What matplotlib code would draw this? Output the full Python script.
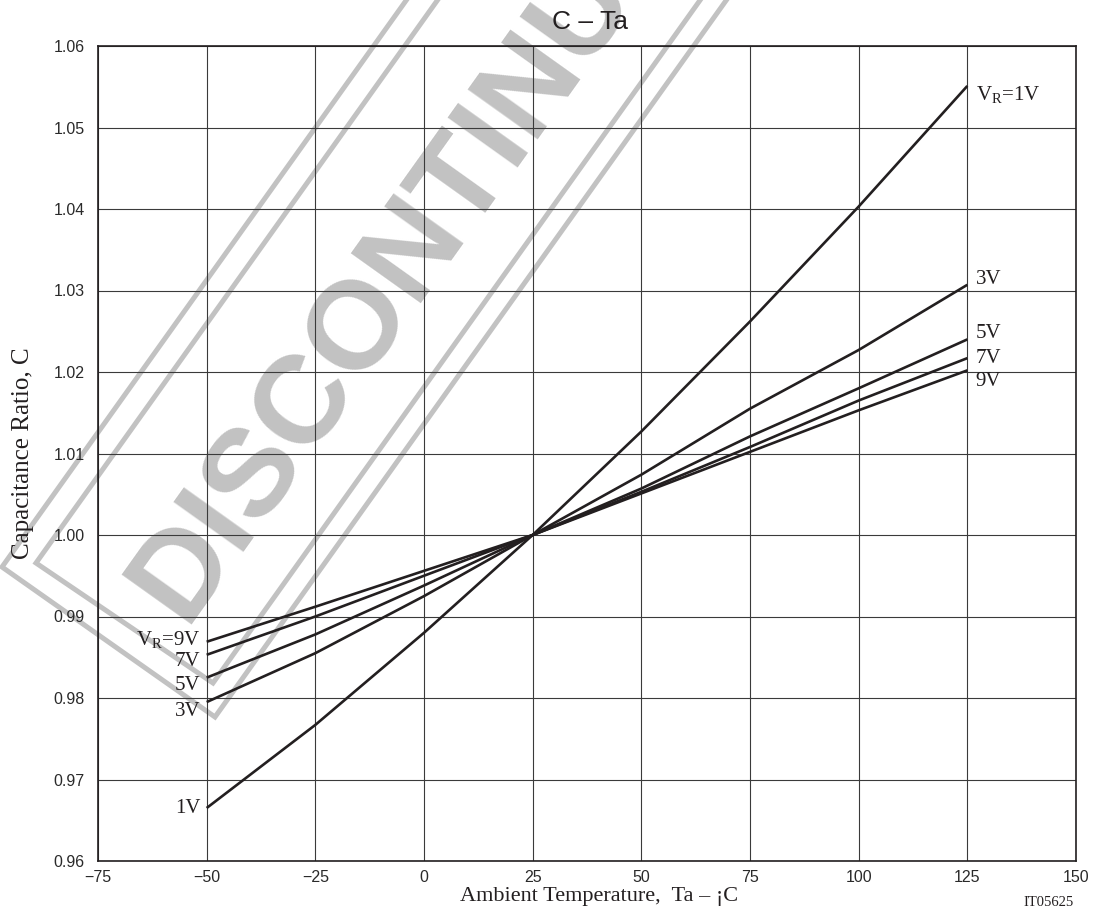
import numpy as np
import matplotlib
matplotlib.use("Agg")
import matplotlib.pyplot as plt
from matplotlib.ticker import FormatStrFormatter

# Data
temps = [-50, -25, 0, 25, 50, 75, 100, 125]
c_1v = [0.9665, 0.9767, 0.9880, 1.0, 1.0127, 1.0262, 1.0403, 1.0551]
c_3v = [0.9795, 0.9855, 0.9925, 1.0, 1.0074, 1.0155, 1.0227, 1.0307]
c_5v = [0.9825, 0.9878, 0.9938, 1.0, 1.0057, 1.0121, 1.0180, 1.0240]
c_7v = [0.9853, 0.9900, 0.9950, 1.0, 1.0053, 1.0108, 1.0165, 1.0217]
c_9v = [0.9869, 0.9912, 0.9956, 1.0, 1.0051, 1.0102, 1.0153, 1.0202]

right_labels = [r'V$_{\mathrm{R}}$=1V', '3V', '5V', '7V', '9V']
left_labels = ['1V', '3V', '5V', '7V', r'V$_{\mathrm{R}}$=9V']

x_ticks = [-75, -50, -25, 0, 25, 50, 75, 100, 125, 150]
y_ticks = [0.96, 0.97, 0.98, 0.99, 1.00, 1.01, 1.02, 1.03, 1.04, 1.05, 1.06]

plt.rcParams['mathtext.fontset'] = 'custom'
plt.rcParams['mathtext.rm'] = 'Liberation Serif'
plt.rcParams['mathtext.it'] = 'Liberation Serif:italic'

W, H = 1094, 914
fig = plt.figure(figsize=(W / 100, H / 100), dpi=100)
fig.patch.set_facecolor('white')

# Watermark layer (pixel coordinates), sits behind the chart
wm = fig.add_axes([0, 0, 1, 1], zorder=0)
wm.set_xlim(0, W)
wm.set_ylim(H, 0)
wm.axis('off')
grey = '#c2c2c2'
ang = np.deg2rad(54.5)
u = np.array([np.cos(ang), -np.sin(ang)])
for left, bottom in [((2, 567), (215, 717)), ((36, 563), (213, 683))]:
    p1 = np.array(left, float)
    p2 = np.array(bottom, float)
    pts = np.array([p1 + u * 1400, p1, p2, p2 + u * 1400])
    wm.plot(pts[:, 0], pts[:, 1], color=grey, lw=3.6, solid_joinstyle='miter',
            clip_on=False)
wm.text(184, 624, 'DISCONTINUED', rotation=54.5, rotation_mode='anchor',
        ha='left', va='baseline', color=grey, fontsize=90, fontweight='bold',
        family='Liberation Sans')

# Main chart
ax = fig.add_axes([98 / W, 1 - 861 / H, (1076 - 98) / W, (861 - 46) / H], zorder=1)
ax.patch.set_alpha(0)

series = [c_1v, c_3v, c_5v, c_7v, c_9v]
for ys in series:
    ax.plot(temps, ys, color='#231f20', lw=1.9, solid_capstyle='butt')

ax.set_xlim(-75, 150)
ax.set_ylim(0.96, 1.06)
ax.set_xticks(x_ticks)
ax.set_yticks(y_ticks)
ax.yaxis.set_major_formatter(FormatStrFormatter('%.2f'))
ax.grid(True, color='#3a3a3a', lw=0.8)
ax.tick_params(length=0, labelsize=11.5, labelcolor='#2a2a2a')
ax.tick_params(axis='y', pad=9.5)
ax.tick_params(axis='x', pad=6.5)
for lbl in ax.get_xticklabels() + ax.get_yticklabels():
    lbl.set_family('Liberation Sans')
for s in ax.spines.values():
    s.set_linewidth(1.2)
    s.set_color('#231f20')

lab_font = dict(family='Liberation Serif', fontsize=15, color='#231f20')
right_dy = [-6, 3.5, 4.5, 0, -8]
for ys, txt, dy in zip(series, right_labels, right_dy):
    ax.annotate(txt, xy=(temps[-1], ys[-1]), xytext=(6, dy),
                textcoords='offset points', ha='left', va='center', **lab_font)
left_dy = [0, -6.5, -6, -5, 1.5]
for ys, txt, dy in zip(series, left_labels, left_dy):
    ax.annotate(txt, xy=(temps[0], ys[0]), xytext=(-4.5, dy),
                textcoords='offset points', ha='right', va='center', **lab_font)

ax.set_title('C – Ta', family='Liberation Sans', fontsize=19, pad=12,
             color='#231f20', x=0.503)
ax.set_xlabel('Ambient Temperature,  Ta – ¡C', family='Liberation Serif',
              fontsize=16, color='#231f20')
ax.xaxis.set_label_coords(0.512, -0.044, transform=ax.transAxes)
ax.xaxis.label.set_va('center')
ax.set_ylabel('Capacitance Ratio, C', family='Liberation Serif',
              fontsize=18, labelpad=14, color='#231f20')
fig.text(1049 / W, 1 - 903 / H, 'IT05625', family='Liberation Serif',
         fontsize=10.5, ha='center', va='center', color='#231f20')

fig.savefig('out.png', dpi=100, facecolor='white')
